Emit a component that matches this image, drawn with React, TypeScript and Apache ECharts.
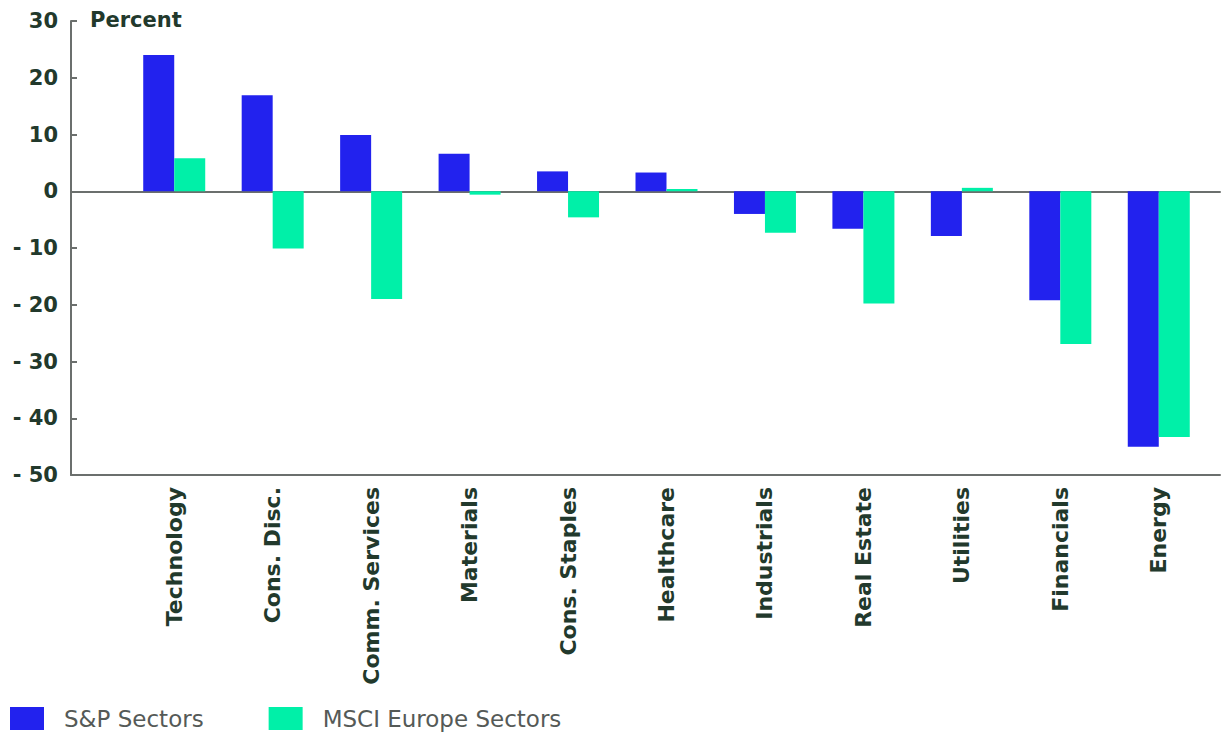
import React, { useEffect, useRef } from "react";
import * as echarts from "echarts";

const categories = [
  "Technology", "Cons. Disc.", "Comm. Services", "Materials", "Cons. Staples",
  "Healthcare", "Industrials", "Real Estate", "Utilities", "Financials", "Energy",
];
const spSectors = [24.0, 16.9, 9.9, 6.6, 3.5, 3.3, -4.0, -6.6, -7.9, -19.2, -45.0];
const msciEurope = [5.8, -10.1, -19.0, -0.6, -4.6, 0.4, -7.3, -19.8, 0.6, -26.9, -43.3];
const yMin = -50;
const yMax = 30;
const yStep = 10;

const TEXT = "#22392c";
const AXIS = "#6b6f6d";
const BLUE = "#2222ee";
const GREEN = "#00f0a8";
const FONT = "'DejaVu Sans', 'Liberation Sans', Arial, sans-serif";

export default function App() {
  const ref = useRef<HTMLDivElement>(null);
  useEffect(() => {
    if (!ref.current) return;
    const chart = echarts.init(ref.current, undefined, { renderer: "svg" });
    chart.setOption({
      animation: false,
      backgroundColor: "#ffffff",
      textStyle: { fontFamily: FONT },
      legend: {
        left: 10,
        top: 707,
        padding: 0,
        itemWidth: 34,
        itemHeight: 23,
        itemGap: 65,
        icon: "rect",
        textStyle: { fontSize: 23, color: "#555a57", fontFamily: FONT, padding: [0, 0, 0, 15] },
        data: ["S&P Sectors", "MSCI Europe Sectors"],
      },
      graphic: [
        {
          type: "text",
          left: 90,
          top: 9,
          style: { text: "Percent", font: `bold 21px ${FONT}`, fill: TEXT },
        },
      ],
      grid: [
        { left: 71, right: 5, top: 21, bottom: 258, containLabel: false },
        { left: 125, width: 1083, top: 21, bottom: 258, containLabel: false },
      ],
      xAxis: [
        {
          gridIndex: 0,
          type: "category",
          data: [""],
          position: "bottom",
          axisLine: { onZero: false, lineStyle: { color: AXIS, width: 2 } },
          axisTick: { show: false },
          axisLabel: { show: false },
        },
        {
          gridIndex: 0,
          type: "category",
          data: [""],
          position: "top",
          axisLine: { onZero: true, lineStyle: { color: AXIS, width: 2 } },
          axisTick: { show: false },
          axisLabel: { show: false },
        },
        {
          gridIndex: 1,
          type: "category",
          data: categories,
          position: "bottom",
          axisLine: { show: false, onZero: false },
          axisTick: { show: false },
          axisLabel: {
            rotate: 90,
            margin: 12,
            color: TEXT,
            fontSize: 22,
            fontWeight: "bold",
            fontFamily: FONT,
            interval: 0,
          },
        },
      ],
      yAxis: [
        {
          gridIndex: 0,
          type: "value",
          min: yMin,
          max: yMax,
          interval: yStep,
          axisLine: { show: true, lineStyle: { color: AXIS, width: 2 } },
          axisTick: { show: true, inside: true, length: 6, lineStyle: { color: AXIS, width: 2 } },
          splitLine: { show: false },
          axisLabel: {
            color: TEXT,
            fontSize: 21,
            fontWeight: "bold",
            fontFamily: FONT,
            margin: 13,
            formatter: (v: number) => (v < 0 ? "- " + Math.abs(v) : String(v)),
          },
        },
        {
          gridIndex: 1,
          type: "value",
          min: yMin,
          max: yMax,
          interval: yStep,
          show: false,
          splitLine: { show: false },
        },
      ],
      series: [
        {
          name: "S&P Sectors",
          type: "bar",
          xAxisIndex: 2,
          yAxisIndex: 1,
          data: spSectors,
          barWidth: 31,
          barGap: "0%",
          itemStyle: { color: BLUE },
        },
        {
          name: "MSCI Europe Sectors",
          type: "bar",
          xAxisIndex: 2,
          yAxisIndex: 1,
          data: msciEurope,
          barWidth: 31,
          barGap: "0%",
          itemStyle: { color: GREEN },
        },
      ],
    });
    return () => chart.dispose();
  }, []);
  return (
    <div
      ref={ref}
      style={{ position: "fixed", left: 0, top: 0, width: 1225, height: 733 }}
    />
  );
}
